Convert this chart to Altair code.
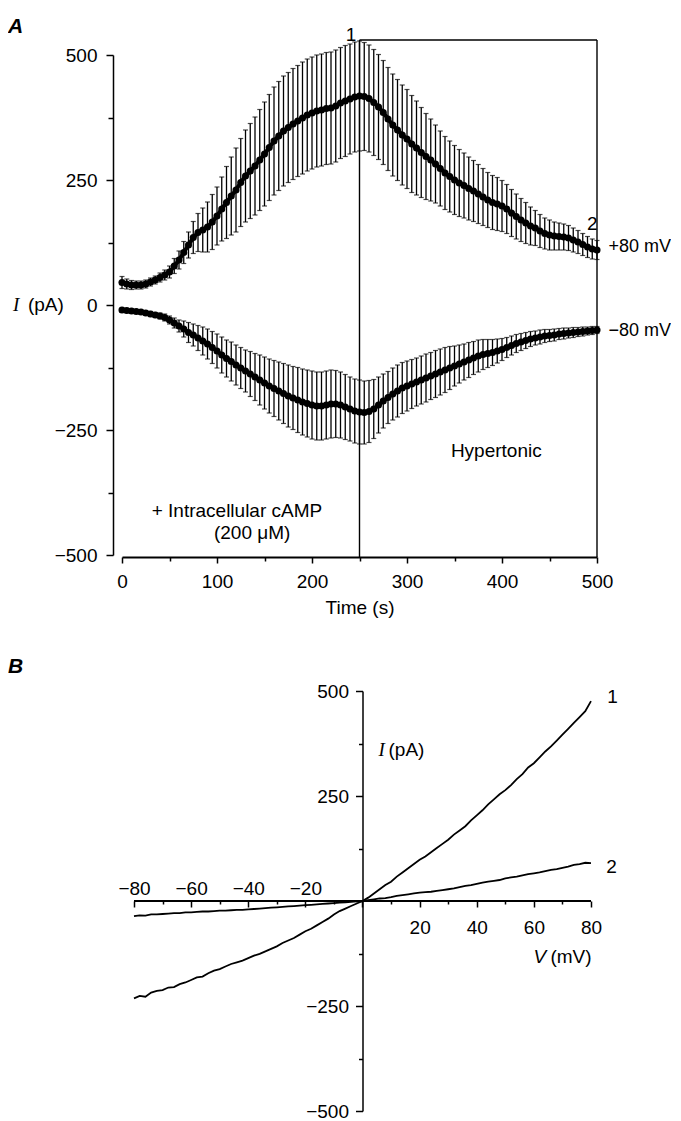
import altair as alt
import pandas as pd

# ---------------- Panel A data (time course, 5 s sampling) ----------------
time_s = list(range(0, 505, 5))
mean_p80 = [45, 42, 40, 40, 40, 42, 46, 50, 55, 60,
            66, 78, 90, 105, 120, 135, 145, 150, 156, 166,
            178, 192, 205, 218, 230, 245, 258, 268, 278, 290,
            302, 315, 328, 338, 348, 355, 362, 368, 374, 380,
            384, 388, 390, 393, 394, 398, 404, 408, 412, 416,
            418, 417, 413, 405, 396, 385, 372, 360, 350, 340,
            332, 322, 314, 305, 297, 290, 282, 273, 264, 257,
            250, 244, 239, 233, 228, 222, 216, 210, 205, 202,
            198, 192, 184, 177, 170, 164, 158, 154, 148, 143,
            140, 138, 137, 136, 134, 130, 126, 121, 116, 112,
            110]
se_p80 = [12, 10, 9, 8, 8, 8, 8, 8, 9, 10,
          12, 15, 18, 22, 26, 32, 38, 44, 50, 55,
          58, 64, 72, 78, 84, 88, 92, 95, 98, 101,
          104, 106, 108, 109, 110, 110, 111, 111, 112, 112,
          112, 112, 112, 112, 112, 112, 111, 111, 110, 110,
          110, 108, 107, 106, 105, 104, 103, 102, 101, 100,
          99, 97, 94, 90, 86, 82, 78, 75, 73, 71,
          69, 67, 65, 63, 61, 59, 57, 55, 54, 53,
          51, 49, 47, 45, 43, 41, 38, 35, 33, 31,
          30, 28, 27, 26, 25, 24, 23, 22, 21, 20,
          19]
mean_m80 = [-10, -11, -12, -13, -14, -16, -18, -20, -22, -25,
            -30, -36, -42, -48, -55, -60, -66, -72, -78, -85,
            -92, -100, -107, -113, -120, -126, -132, -138, -144, -150,
            -156, -162, -167, -172, -177, -182, -186, -190, -194, -197,
            -200, -202, -202, -200, -198, -198, -200, -204, -208, -212,
            -214, -215, -213, -208, -200, -192, -185, -178, -172, -166,
            -162, -158, -154, -150, -146, -142, -138, -134, -130, -126,
            -122, -118, -114, -110, -106, -102, -99, -97, -95, -92,
            -89, -85, -81, -77, -74, -71, -68, -66, -64, -62,
            -61, -60, -58, -57, -56, -55, -54, -53, -52, -51,
            -50]
se_m80 = [4, 4, 4, 4, 4, 4, 5, 5, 6, 7,
          8, 10, 12, 16, 20, 22, 25, 28, 30, 32,
          34, 36, 37, 39, 40, 41, 42, 45, 47, 50,
          52, 54, 56, 58, 60, 62, 63, 65, 66, 67,
          68, 68, 68, 68, 68, 67, 66, 65, 64, 64,
          64, 63, 62, 59, 56, 54, 52, 52, 52, 51,
          50, 49, 48, 48, 48, 47, 47, 46, 45, 43,
          40, 38, 36, 35, 33, 32, 30, 28, 26, 24,
          22, 20, 19, 18, 17, 16, 15, 14, 14, 13,
          12, 12, 11, 11, 10, 10, 9, 9, 8, 8,
          7]

# ---------------- Panel B data (I-V relations) ----------------
volt_mv = list(range(-80, 82, 2))
iv_1 = [-232, -226, -228, -218, -214, -212, -206, -205, -198, -194,
        -188, -182, -180, -172, -166, -162, -156, -150, -146, -142,
        -136, -130, -126, -120, -114, -108, -100, -94, -88, -80,
        -72, -66, -58, -50, -42, -32, -24, -18, -12, -6,
        0,
        8, 18, 28, 38, 46, 58, 68, 78, 88, 98,
        106, 116, 126, 136, 146, 158, 168, 178, 192, 204,
        216, 230, 242, 254, 264, 276, 290, 302, 318, 328,
        342, 356, 368, 382, 396, 410, 424, 438, 452, 476]
iv_2 = [-36, -34, -35, -32, -32, -31, -30, -29, -29, -27,
        -27, -26, -25, -25, -24, -23, -23, -22, -21, -21,
        -20, -19, -18, -17, -16, -15, -14, -13, -12, -11,
        -10, -9, -8, -7, -6, -5, -4, -3, -2, -1,
        0,
        2, 4, 6, 7, 9, 12, 14, 16, 18, 20,
        21, 22, 24, 26, 28, 30, 33, 36, 38, 41,
        44, 46, 48, 50, 54, 56, 58, 61, 64, 66,
        68, 71, 74, 76, 79, 82, 86, 88, 91, 90]

FONT = "Liberation Sans"
FS = 19

df_a = pd.DataFrame({
    "t": time_s + time_s,
    "I": mean_p80 + mean_m80,
    "se": se_p80 + se_m80,
    "series": ["+80"] * len(time_s) + ["-80"] * len(time_s),
})
df_a["lo"] = df_a["I"] - df_a["se"]
df_a["hi"] = df_a["I"] + df_a["se"]

axis_common = dict(labelFont=FONT, labelFontSize=FS, labelColor="black",
                   domainColor="black", tickColor="black", grid=False,
                   labelFlush=False, labelOverlap=False,
                   titleFont=FONT, titleFontSize=FS, titleFontWeight="normal",
                   titleColor="black")

xs_a = alt.Scale(domain=[0, 500], nice=False, zero=False)
ys_a = alt.Scale(domain=[-500, 500], nice=False, zero=False)
xax_a = alt.Axis(values=list(range(0, 501, 50)),
                 labelExpr="datum.value % 100 === 0 ? datum.label : ''",
                 tickSize={"condition": {"test": "datum.value % 100 === 0", "value": 6}, "value": 4},
                 offset=2, title="Time (s)", titlePadding=7, labelPadding=9,
                 domainWidth=2, tickWidth=1.5, **axis_common)
yax_a = alt.Axis(values=list(range(-500, 501, 125)),
                 labelExpr="datum.value % 250 === 0 ? datum.label : ''",
                 tickSize={"condition": {"test": "datum.value % 250 === 0", "value": 7}, "value": 5},
                 offset=9, title=None, labelPadding=9,
                 domainWidth=1.5, tickWidth=1.5, **axis_common)


def XA(f):
    return alt.X(f, scale=xs_a, axis=xax_a)


def YA(f):
    return alt.Y(f, scale=ys_a, axis=yax_a)


base_a = alt.Chart(df_a)
err_a = base_a.mark_errorbar(
    ticks={"size": 5, "thickness": 1.2, "color": "black"},
    rule={"strokeWidth": 1.3, "color": "black"},
).encode(x=XA("t:Q"), y=YA("lo:Q"), y2="hi:Q")
line_a = base_a.mark_line(color="black", strokeWidth=4).encode(
    x=XA("t:Q"), y=YA("I:Q"), detail="series:N")
pts_a = base_a.mark_circle(color="black", size=50, opacity=1).encode(
    x=XA("t:Q"), y=YA("I:Q"))

box_a = pd.DataFrame({"x1": [250, 250, 500], "y1": [-504, 530, 530],
                      "x2": [250, 500, 500], "y2": [530, 530, -504]})
rules_a = alt.Chart(box_a).mark_rule(color="black", strokeWidth=1.4).encode(
    x=XA("x1:Q"), y=YA("y1:Q"), x2="x2:Q", y2="y2:Q")


def text_layer(df, xf, yf, align="left", size=FS, style="normal", font=FONT, weight="normal"):
    return alt.Chart(df).mark_text(align=align, baseline="middle", fontSize=size,
                                   fontStyle=style, font=font, fontWeight=weight,
                                   color="black").encode(
        x=xf, y=yf, text="label:N")


ta_center = pd.DataFrame({
    "label": ["1", "2", "Hypertonic", "+ Intracellular cAMP", "(200 \u03bcM)"],
    "t": [241, 495, 394, 121, 137],
    "I": [540, 162, -292, -412, -456]})
ta_left = pd.DataFrame({"label": ["(pA)"], "t": [-99], "I": [0]})
ta_mv = pd.DataFrame({
    "label": ["+80 mV", "\u221280 mV"],
    "t": [512, 512],
    "I": [116, -52]})
ta_i = pd.DataFrame({"label": ["I"], "t": [-114.7], "I": [0]})
ta_letter = pd.DataFrame({"label": ["A"], "t": [-120], "I": [556]})

panel_a = alt.layer(
    rules_a, err_a, line_a, pts_a,
    text_layer(ta_center, XA("t:Q"), YA("I:Q"), align="center"),
    text_layer(ta_left, XA("t:Q"), YA("I:Q"), align="left"),
    text_layer(ta_mv, XA("t:Q"), YA("I:Q"), align="left", size=18),
    text_layer(ta_i, XA("t:Q"), YA("I:Q"), align="left", size=19, style="italic",
               font="Liberation Serif"),
    text_layer(ta_letter, XA("t:Q"), YA("I:Q"), align="left", size=21, style="italic",
               weight="bold"),
).properties(width=475, height=500)

# ---------------- Panel B ----------------
df_b = pd.DataFrame({
    "V": volt_mv + volt_mv,
    "I": iv_1 + iv_2,
    "curve": ["1"] * len(volt_mv) + ["2"] * len(volt_mv)})

xs_b = alt.Scale(domain=[-84.2, 80], nice=False, zero=False)
ys_b = alt.Scale(domain=[-500, 500], nice=False, zero=False)
xax_b_bottom = alt.Axis(values=list(range(-80, 81, 10)),
                        labelExpr="datum.value > 0 && datum.value % 20 === 0 ? datum.label : ''",
                        tickSize={"condition": {"test": "datum.value % 20 === 0", "value": 6}, "value": 3},
                        offset=-210, domain=False, labelPadding=11, title=None,
                        tickWidth=1.5, **axis_common)
xax_b_top = alt.Axis(orient="top", values=[-80, -60, -40, -20], ticks=False, tickSize=0,
                     domain=False, offset=-210, labelPadding=3, title=None, **axis_common)
yax_b = alt.Axis(values=list(range(-500, 501, 125)),
                 labelExpr="datum.value !== 0 && datum.value % 250 === 0 ? datum.label : ''",
                 tickSize={"condition": {"test": "datum.value % 250 === 0", "value": 7}, "value": 4},
                 offset=-240.5, labelPadding=7, title=None,
                 domainWidth=1.5, tickWidth=1.5, **axis_common)

line_b = alt.Chart(df_b).mark_line(color="black", strokeWidth=1.8).encode(
    x=alt.X("V:Q", scale=xs_b, axis=xax_b_bottom),
    y=alt.Y("I:Q", scale=ys_b, axis=yax_b),
    detail="curve:N")

xline_b = pd.DataFrame({"x1": [-80], "x2": [80], "y": [0]})
axisline_b = alt.Chart(xline_b).mark_rule(color="black", strokeWidth=1.8).encode(
    x=alt.X("x1:Q", scale=xs_b, axis=xax_b_top), x2="x2:Q",
    y=alt.Y("y:Q", scale=ys_b, axis=yax_b))


def XB(f):
    return alt.X(f, scale=xs_b, axis=None)


def YB(f):
    return alt.Y(f, scale=ys_b, axis=yax_b)


tb_center = pd.DataFrame({"label": ["1", "2"], "V": [87.5, 87.2], "I": [486, 81]})
tb_left = pd.DataFrame({"label": ["(pA)", "(mV)"], "V": [9.1, 65.8], "I": [360, -133]})
tb_i = pd.DataFrame({"label": ["I"], "V": [5.6], "I": [360]})
tb_v = pd.DataFrame({"label": ["V"], "V": [59.9], "I": [-133]})
tb_letter = pd.DataFrame({"label": ["B"], "V": [-124.1], "I": [557]})

panel_b = alt.layer(
    axisline_b, line_b,
    text_layer(tb_center, XB("V:Q"), YB("I:Q"), align="center"),
    text_layer(tb_left, XB("V:Q"), YB("I:Q"), align="left"),
    text_layer(tb_i, XB("V:Q"), YB("I:Q"), align="left", size=19, style="italic",
               font="Liberation Serif"),
    text_layer(tb_v, XB("V:Q"), YB("I:Q"), align="left", size=FS, style="italic"),
    text_layer(tb_letter, XB("V:Q"), YB("I:Q"), align="left", size=21, style="italic",
               weight="bold"),
).resolve_axis(x="independent").properties(width=469, height=420)

chart = alt.vconcat(panel_a, panel_b, spacing=39).properties(
    padding={"left": 0, "top": 7, "right": 0, "bottom": 0}
).configure(font=FONT).configure_view(stroke=None)

chart.save("out.html", embed_options={"renderer": "svg", "actions": False})
